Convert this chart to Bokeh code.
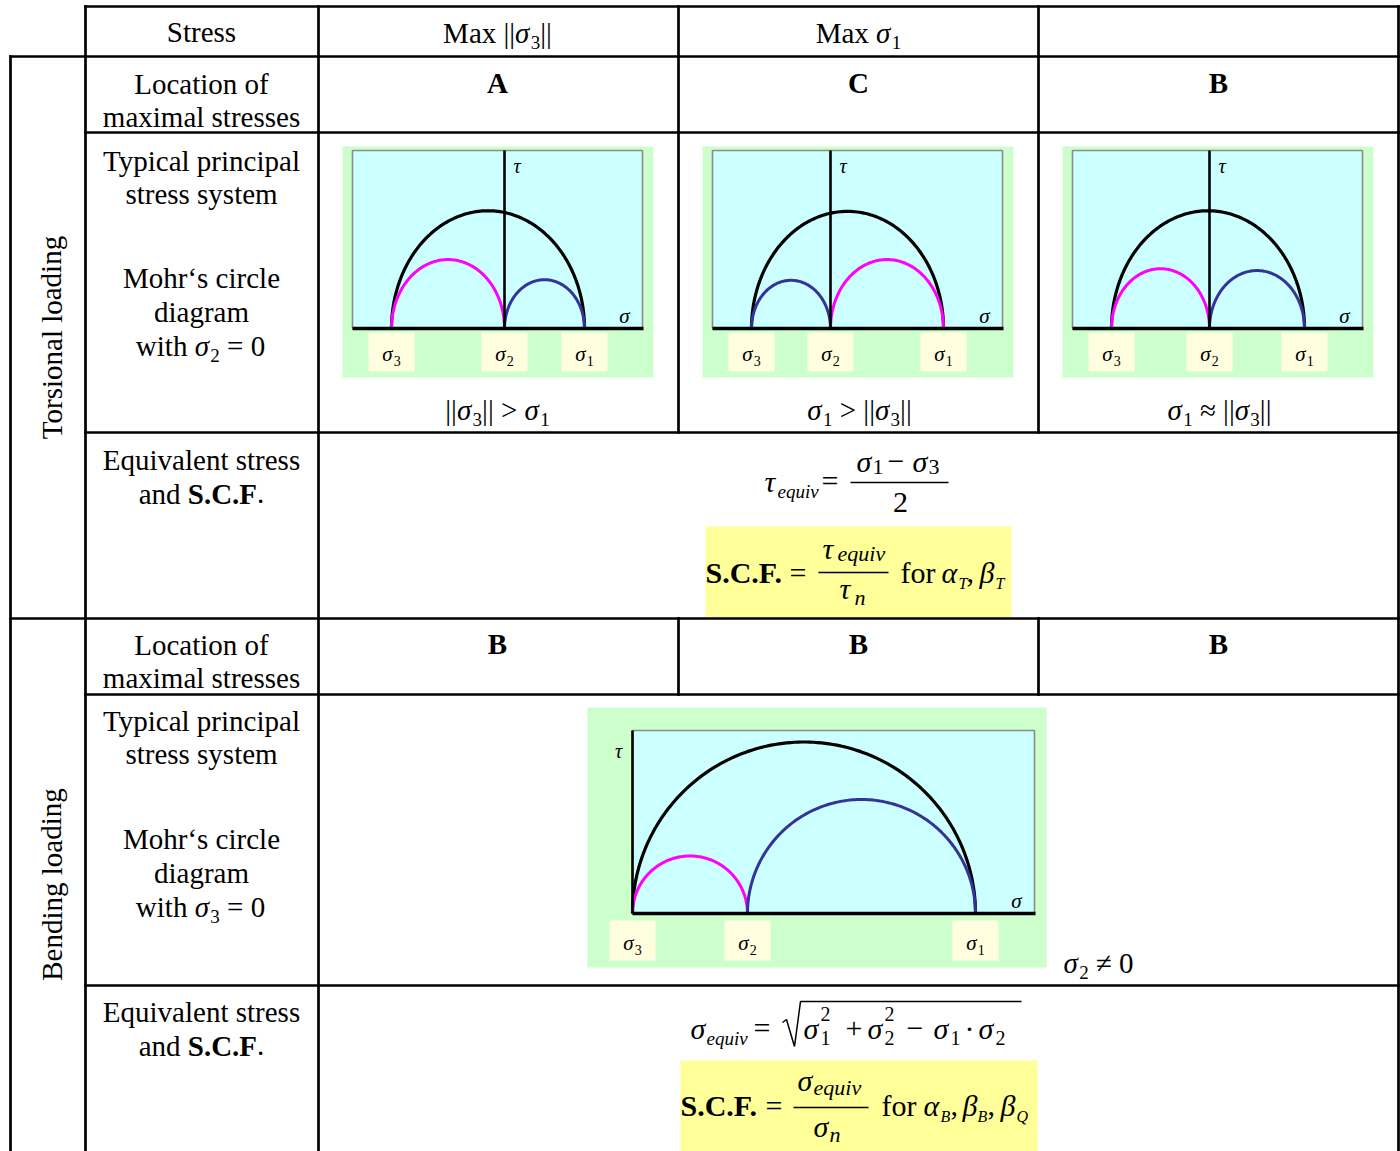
import numpy as np
from bokeh.plotting import figure
from bokeh.models import Range1d, ColumnDataSource
from bokeh.core.properties import value
from bokeh.embed import file_html
from bokeh.resources import INLINE

# ---------------- data ----------------
header = ["Stress", "Max ||σ3||", "Max σ1", ""]
group_labels = ["Torsional loading", "Bending loading"]
row_titles_torsion = ["Location of", "maximal stresses", "Typical principal", "stress system",
                      "Mohr‘s circle", "diagram", "with σ2 = 0", "Equivalent stress", "and S.C.F."]
row_titles_bending = ["Location of", "maximal stresses", "Typical principal", "stress system",
                      "Mohr‘s circle", "diagram", "with σ3 = 0", "Equivalent stress", "and S.C.F."]
tors_location = ["A", "C", "B"]
bend_location = ["B", "B", "B"]
tors_condition = ["||σ3|| > σ1", "σ1 > ||σ3||", "σ1 ≈ ||σ3||"]
# principal stresses of each Mohr's circle diagram (arbitrary units)
tors_sigma3 = [-1.13, -0.79, -0.98]
tors_sigma2 = [0.0, 0.0, 0.0]
tors_sigma1 = [0.80, 1.13, 0.95]
bend_sigma3 = [0.0]
bend_sigma2 = [1.15]
bend_sigma1 = [3.43]
bend_note = "σ2 ≠ 0"
principal_names = ["σ3", "σ2", "σ1"]

# ---------------- styles / layout ----------------
FONT = "Liberation Serif"
BODY = 29
MAGENTA, BLUE = "#FF00FF", "#333399"
GREEN, CYAN, CREAM, YELLOW, GRAY = "#CCFFCC", "#CCFFFF", "#FFFFE0", "#FFFF99", "#8C8C8C"

p = figure(width=1400, height=1151, x_range=Range1d(0, 1400), y_range=Range1d(1151, 0),
           output_backend="svg", toolbar_location=None, min_border=0,
           x_axis_type=None, y_axis_type=None)
p.outline_line_color = None
p.background_fill_color = "white"
p.border_fill_color = "white"

T = dict(x=[], y=[], text=[], size=[], style=[], align=[], angle=[])

CW = {
    "n": {" ": .25, "M": .889, "a": .444, "x": .5, "|": .2, "=": .564, ">": .564, "≈": .549,
          "≠": .549, "−": .564, "+": .564, "·": .25, ",": .25, ".": .25, "f": .333, "o": .5,
          "r": .333, "w": .722, "i": .278, "t": .278, "h": .5, "n": .5, "d": .5},
    "i": {"σ": .54, "τ": .44, "α": .6, "β": .55, "e": .444, "q": .5, "u": .5, "i": .278,
          "v": .444, "n": .5, "T": .556, "B": .611, "Q": .722},
    "b": {"S": .556, "C": .722, "F": .611, ".": .25, "A": .722, "B": .667},
}


def tw(s, st, sz):
    return sum(CW[st].get(c, .5) for c in s) * sz


def put(x, y, s, st="n", sz=BODY, align="left", angle=0.0, mid=False):
    # texts are anchored on their middle; y given as the alphabetic baseline
    lead = len(s) - len(s.lstrip(" "))
    if lead and align == "left":
        x += tw(" " * lead, st, sz)
    s = s.strip(" ")
    T["x"].append(x)
    T["y"].append(y if mid else y - 0.34 * sz)
    T["text"].append(s)
    T["size"].append(f"{sz:.1f}px")
    T["style"].append({"n": "normal", "i": "italic", "b": "bold"}[st])
    T["align"].append(align); T["angle"].append(angle)


def parse(s, sz=BODY, subsz=19, dy=6):
    out, buf, i = [], "", 0
    while i < len(s):
        c = s[i]
        if c in "στ":
            if buf:
                out.append((buf, "n", sz, 0)); buf = ""
            out.append((c, "i", sz, 0))
            if i + 1 < len(s) and s[i + 1].isdigit():
                out.append((s[i + 1], "n", subsz, dy)); i += 1
        else:
            buf += c
        i += 1
    if buf:
        out.append((buf, "n", sz, 0))
    return out


def run(x, y, pieces, anchor="center"):
    total = sum(tw(t, st, sz) for t, st, sz, dy in pieces)
    cx = x - total / 2 if anchor == "center" else x
    for t, st, sz, dy in pieces:
        put(cx, y + dy, t, st, sz)
        cx += tw(t, st, sz)


# ---------------- table grid ----------------
SEG = dict(x0=[], y0=[], x1=[], y1=[])


def seg(x0, y0, x1, y1):
    SEG["x0"].append(x0); SEG["y0"].append(y0); SEG["x1"].append(x1); SEG["y1"].append(y1)


X_OUT, X_LAB, X_C1, X_C2, X_C3, X_END = 10, 85, 318, 678, 1038, 1398
Y_TOP, Y_BOT = 6, 1151
for yy, x0 in [(6, X_LAB), (56, X_OUT), (132, X_LAB), (432, X_LAB), (618, X_OUT), (694, X_LAB), (985, X_LAB)]:
    seg(x0, yy, X_END, yy)
seg(X_OUT, 56, X_OUT, Y_BOT)
seg(X_LAB, Y_TOP, X_LAB, Y_BOT)
seg(X_C1, Y_TOP, X_C1, Y_BOT)
for xx in (X_C2, X_C3):
    seg(xx, Y_TOP, xx, 432)
    seg(xx, 618, xx, 694)
seg(X_END, Y_TOP, X_END, Y_BOT)

# ---------------- background rectangles ----------------
Q = dict(l=[], r=[], t=[], b=[], fill=[], line=[], lw=[])


def quad(l, r, t, b, fill, line=None, lw=0):
    Q["l"].append(l); Q["r"].append(r); Q["t"].append(t); Q["b"].append(b)
    Q["fill"].append(fill); Q["line"].append(line if line else fill); Q["lw"].append(lw)


ARC = dict(xs=[], ys=[], color=[], lw=[])
AX = dict(x0=[], y0=[], x1=[], y1=[], lw=[])


def half_ellipse(a, b, ox, oy, sx, sy, color, lw=3.0):
    t = np.linspace(0, np.pi, 140)
    c, r = (a + b) / 2.0, abs(b - a) / 2.0
    ARC["xs"].append(list(ox + (c + r * np.cos(t)) * sx))
    ARC["ys"].append(list(oy - (r * np.sin(t)) * sy))
    ARC["color"].append(color); ARC["lw"].append(lw)


def mohr(s3, s2, s1, ox, oy, sx, sy, small_colors, green, cyan, tau_xy, box_top, box_h, lab_base):
    gl, gr, gt, gb = green
    cl, cr, ct = cyan
    quad(gl, gr, gt, gb, GREEN)
    quad(cl, cr, ct, oy, CYAN, GRAY, 1.6)
    half_ellipse(s3, s1, ox, oy, sx, sy, "black", 3.2)
    half_ellipse(s3, s2, ox, oy, sx, sy, small_colors[0], 3.0)
    half_ellipse(s2, s1, ox, oy, sx, sy, small_colors[1], 3.0)
    AX["x0"].append(ox); AX["y0"].append(ct); AX["x1"].append(ox); AX["y1"].append(oy); AX["lw"].append(2.6)
    AX["x0"].append(cl); AX["y0"].append(oy); AX["x1"].append(cr + 1); AX["y1"].append(oy); AX["lw"].append(3.6)
    put(tau_xy[0], tau_xy[1], "τ", "i", 20, tau_xy[2])
    put(cr - 18, oy - 5, "σ", "i", 21, "center")
    for name, sv in zip(principal_names, (s3, s2, s1)):
        px = ox + sv * sx
        quad(px - 23, px + 23, box_top, box_top + box_h, CREAM)
        run(px, lab_base, parse(name, 21, 14, 4))


# torsional diagrams
tors_col_center = [498, 858, 1218]
tors_origin = [504, 830, 1209]
left_small = [MAGENTA, BLUE, MAGENTA]
right_small = [BLUE, MAGENTA, BLUE]
for i in range(3):
    cc, ox = tors_col_center[i], tors_origin[i]
    mohr(tors_sigma3[i], tors_sigma2[i], tors_sigma1[i], ox, 328, 100, 122,
         (left_small[i], right_small[i]),
         (cc - 156, cc + 155, 146, 377), (cc - 146, cc + 144, 150),
         (ox + 9, 172, "left"), 332, 39, 361)

# bending diagram
mohr(bend_sigma3[0], bend_sigma2[0], bend_sigma1[0], 632, 913, 100, 100,
     (MAGENTA, BLUE), (587, 1046, 707, 967), (632, 1034, 730),
     (618, 757, "center"), 920, 40, 950)
run(1063, 972, parse(bend_note, BODY, 19, 6), "left")

# ---------------- texts of the table ----------------
put(201, 41, header[0], "n", BODY, "center")
for txt, cx in zip(header[1:], (497, 858, 1218)):
    if txt:
        run(cx, 42, parse(txt, BODY, 19, 6))

for lbl, cy in zip(group_labels, (337, 884)):
    put(51, cy, lbl, "n", BODY, "center", np.pi / 2, mid=True)

tors_title_base = [93, 126, 170, 203, 287, 321, 355, 469, 503]
bend_title_base = [654, 687, 730, 763, 848, 882, 916, 1021, 1055]
for titles, bases in ((row_titles_torsion, tors_title_base), (row_titles_bending, bend_title_base)):
    for txt, yb in zip(titles, bases):
        if txt == "and S.C.F.":
            run(201, yb, [("and ", "n", BODY, 0), ("S.C.F", "b", BODY, 0), (".", "n", BODY, 0)])
        elif "σ" in txt:
            run(200, yb, parse(txt, BODY, 19, 6))
        else:
            put(201, yb, txt, "n", BODY, "center")

for lab, cx in zip(tors_location, (497, 858, 1218)):
    put(cx, 92, lab, "b", BODY, "center")
for lab, cx in zip(bend_location, (497, 858, 1218)):
    put(cx, 653, lab, "b", BODY, "center")
for cond, cx in zip(tors_condition, (497, 859, 1219)):
    run(cx, 419, parse(cond, BODY, 19, 6))

# ---- torsional formula ----
put(764, 491, "τ", "i", 30)
put(777, 497, "equiv", "i", 19)
put(821, 490, "=", "n", 30)
for t, st, sz, xx, yy in [("σ", "i", 30, 856, 471), ("1", "n", 22, 872, 474), ("−", "n", 30, 887, 471),
                          ("σ", "i", 30, 912, 471), ("3", "n", 22, 928, 474)]:
    put(xx, yy, t, st, sz)
FRAC = dict(x0=[850], y0=[482], x1=[948], y1=[482])
put(900, 512, "2", "n", 30, "center")

quad(705, 1011, 526, 617, YELLOW)
put(705, 582, "S.C.F.", "b", 30)
put(789, 582, "=", "n", 30)
put(822, 558, "τ", "i", 30); put(837, 560, "equiv", "i", 22)
FRAC["x0"].append(818); FRAC["x1"].append(888); FRAC["y0"].append(572); FRAC["y1"].append(572)
put(839, 598, "τ", "i", 30); put(854, 604, "n", "i", 22)
for t, st, sz, xx, yy in [("for", "n", 30, 900, 582), ("α", "i", 30, 941, 582), ("T", "i", 16, 958, 588),
                          (",", "n", 30, 966, 582), ("β", "i", 30, 979, 582), ("T", "i", 16, 995, 588)]:
    put(xx, yy, t, st, sz)

# ---- bending formula ----
put(690, 1038, "σ", "i", 30)
put(706, 1044, "equiv", "i", 19)
put(753, 1037, "=", "n", 30)
for t, st, sz, xx, yy in [("σ", "i", 30, 803, 1038), ("2", "n", 20, 820, 1020), ("1", "n", 20, 820, 1044),
                          ("+", "n", 30, 845, 1038), ("σ", "i", 30, 867, 1038), ("2", "n", 20, 884, 1020),
                          ("2", "n", 20, 884, 1044), ("−", "n", 30, 906, 1038), ("σ", "i", 30, 933, 1038),
                          ("1", "n", 20, 950, 1044), ("·", "n", 30, 964, 1038), ("σ", "i", 30, 978, 1038),
                          ("2", "n", 20, 995, 1044)]:
    put(xx, yy, t, st, sz)
RAD = dict(x=[782, 786, 794, 800, 1021], y=[1022, 1019, 1046, 1001, 1001])

quad(680, 1037, 1060, 1151, YELLOW)
put(680, 1115, "S.C.F.", "b", 30)
put(765, 1115, "=", "n", 30)
put(797, 1090, "σ", "i", 30); put(813, 1094, "equiv", "i", 22)
FRAC["x0"].append(793); FRAC["x1"].append(868); FRAC["y0"].append(1107); FRAC["y1"].append(1107)
put(813, 1136, "σ", "i", 30); put(829, 1141, "n", "i", 22)
for t, st, sz, xx, yy in [("for", "n", 30, 881, 1115), ("α", "i", 30, 923, 1115), ("B", "i", 16, 940, 1121),
                          (",", "n", 30, 950, 1115), ("β", "i", 30, 962, 1115), ("B", "i", 16, 977, 1121),
                          (",", "n", 30, 987, 1115), ("β", "i", 30, 1000, 1115), ("Q", "i", 16, 1016, 1121)]:
    put(xx, yy, t, st, sz)

# ---------------- render ----------------
p.quad(left="l", right="r", top="t", bottom="b", fill_color="fill", line_color="line",
       line_width="lw", source=ColumnDataSource(Q))
p.multi_line(xs="xs", ys="ys", line_color="color", line_width="lw", source=ColumnDataSource(ARC))
p.segment(x0="x0", y0="y0", x1="x1", y1="y1", line_color="black", line_width="lw",
          source=ColumnDataSource(AX))
p.segment(x0="x0", y0="y0", x1="x1", y1="y1", line_color="black", line_width=1.6,
          source=ColumnDataSource(FRAC))
p.line(x="x", y="y", line_color="black", line_width=1.5, source=ColumnDataSource(RAD))
p.segment(x0="x0", y0="y0", x1="x1", y1="y1", line_color="black", line_width=2.7,
          line_cap="square", source=ColumnDataSource(SEG))
p.text(x="x", y="y", text="text", text_font=value(FONT), text_font_size="size",
       text_font_style="style", text_align="align", text_baseline="middle", angle="angle",
       text_color="black", source=ColumnDataSource(T))

open("out.html", "w").write(file_html(p, INLINE))
